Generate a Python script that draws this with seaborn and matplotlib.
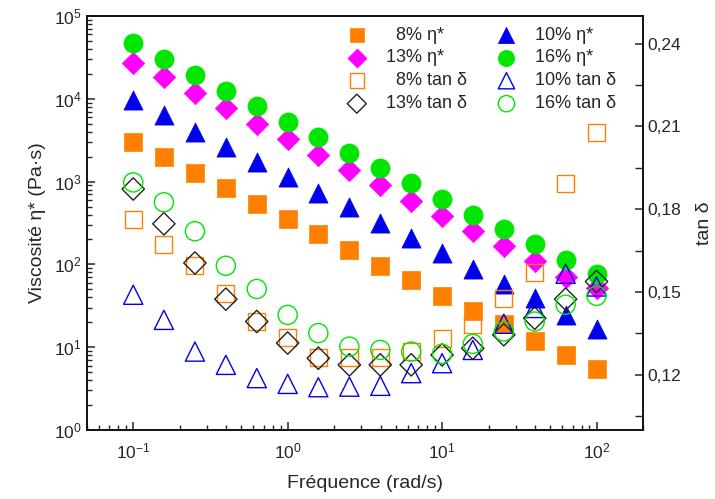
import numpy as np
import pandas as pd
import matplotlib
matplotlib.use("Agg")
import matplotlib.pyplot as plt
from matplotlib.ticker import FuncFormatter, MultipleLocator, LogLocator
import seaborn as sns

freq = [0.1, 0.158, 0.251, 0.398, 0.631, 1.0, 1.58, 2.51, 3.98, 6.31,
        10.0, 15.8, 25.1, 39.8, 63.1, 100.0]

# complex viscosity (Pa.s)
eta_8 = [2985, 1965, 1282, 830, 536, 353, 233, 149, 96, 64, 42, 27.6, 19, 12, 8.05, 5.45]
eta_10 = [9680, 6370, 4010, 2640, 1740, 1127, 734, 490, 313, 207, 136, 87, 57.5, 39, 24.5, 16.5]
eta_13 = [26800, 18500, 11650, 7810, 4960, 3240, 2110, 1380, 902, 583, 384, 253, 167, 110, 71, 52]
eta_16 = [46800, 30000, 19400, 12500, 8190, 5300, 3490, 2230, 1450, 953, 616, 395, 266, 175, 113, 76.6]

# tan delta
tan_8 = [0.1762, 0.1671, 0.1596, 0.1495, 0.1393, 0.1336, 0.1264, 0.1264, 0.1262, 0.1284,
         0.1333, 0.1381, 0.1478, 0.1571, 0.1892, 0.2079]
tan_10 = [0.1490, 0.1399, 0.1284, 0.1236, 0.1188, 0.1167, 0.1155, 0.1157, 0.1160, 0.1206,
          0.1242, 0.1290, 0.1385, 0.1442, 0.1566, 0.1520]
tan_13 = [0.1873, 0.1747, 0.1605, 0.1474, 0.1393, 0.1315, 0.1260, 0.1236, 0.1236, 0.1236,
          0.1272, 0.1296, 0.1345, 0.1405, 0.1474, 0.1538]
tan_16 = [0.1897, 0.1825, 0.1720, 0.1595, 0.1511, 0.1417, 0.1351, 0.1302, 0.1290, 0.1284,
          0.1276, 0.1312, 0.1357, 0.1393, 0.1454, 0.1486]

sns.set_style("ticks")
plt.rcParams['font.family'] = ['Liberation Sans', 'DejaVu Sans']
plt.rcParams['mathtext.fontset'] = 'custom'
plt.rcParams['mathtext.rm'] = 'Liberation Sans'
plt.rcParams['mathtext.it'] = 'Liberation Sans:italic'
plt.rcParams['axes.unicode_minus'] = False

fig = plt.figure(figsize=(7.15, 4.99), dpi=100)
ax = fig.add_axes([0.1213, 0.1383, 0.7780, 0.8297])
ax2 = ax.twinx()

orange = '#FF8000'
magenta = '#FF00FF'
blue = '#0000F0'
green = '#00E600'

eta = pd.DataFrame({'f': freq, 'e8': eta_8, 'e10': eta_10, 'e13': eta_13, 'e16': eta_16})
tan = pd.DataFrame({'f': freq, 't8': tan_8, 't10': tan_10, 't13': tan_13, 't16': tan_16})

h = {}
filled = [('e8', 's', orange, 150, '  8% η*'), ('e10', '^', blue, 190, '10% η*'),
          ('e13', 'D', magenta, 130, '13% η*'), ('e16', 'o', green, 190, '16% η*')]
for col, m, c, s, lab in filled:
    sns.scatterplot(data=eta, x='f', y=col, marker=m, color=c, edgecolor=c, s=s,
                    linewidth=0.5, ax=ax, label=lab, legend=False)
    h[col] = ax.collections[-1]

opened = [('t8', 's', orange, 150, '  8% tan δ'), ('t10', '^', blue, 190, '10% tan δ'),
          ('t13', 'D', '#222222', 130, '13% tan δ'), ('t16', 'o', green, 190, '16% tan δ')]
for col, m, c, s, lab in opened:
    sns.scatterplot(data=tan, x='f', y=col, marker=m, color=c, facecolor='none', edgecolor=c,
                    s=s, linewidth=1.0, ax=ax2, label=lab, legend=False)
    h[col] = ax2.collections[-1]

ax.set_xscale('log')
ax.set_yscale('log')
ax.set_xlim(0.05, 200)
ax.set_ylim(1, 1e5)
ax2.set_ylim(0.10, 0.25)

ax.yaxis.set_major_locator(LogLocator(base=10, numticks=10))
ax.yaxis.set_minor_locator(LogLocator(base=10, subs=np.arange(2, 10), numticks=20))
ax2.yaxis.set_major_locator(MultipleLocator(0.03))
ax2.yaxis.set_minor_locator(MultipleLocator(0.015))
ax2.yaxis.set_major_formatter(FuncFormatter(lambda v, p: ('%.2f' % v).replace('.', ',')))

ax.tick_params(axis='both', which='both', direction='in', top=False, right=False, labelsize=12.5)
ax.tick_params(which='major', length=6, width=1.1)
ax.tick_params(which='minor', length=3.5, width=1.0)
ax2.tick_params(axis='y', which='both', direction='in', labelsize=12.5)
ax2.tick_params(which='major', length=6, width=1.1)
ax2.tick_params(which='minor', length=6, width=1.0)
ax.tick_params(axis='x', pad=8)
for a in (ax, ax2):
    for sp in a.spines.values():
        sp.set_linewidth(1.2)
        sp.set_color('#111111')

ax.set_xlabel('Fréquence (rad/s)', fontsize=14, labelpad=10)
ax.set_ylabel('Viscosité η* (Pa·s)', fontsize=14, labelpad=6)
ax2.set_ylabel('tan δ', fontsize=14, labelpad=10)
ax2.set_xlabel('')

order = ['e8', 'e13', 't8', 't13', 'e10', 'e16', 't10', 't16']
handles = [h[k] for k in order]
labels = [hh.get_label() for hh in handles]
ax2.legend(handles, labels, ncol=2, loc='upper right', bbox_to_anchor=(0.975, 1.005),
           frameon=False, fontsize=13, handletextpad=0.6, columnspacing=1.2,
           labelspacing=0.33, borderaxespad=0.3, markerscale=0.85)

fig.savefig('out.png', dpi=100)
